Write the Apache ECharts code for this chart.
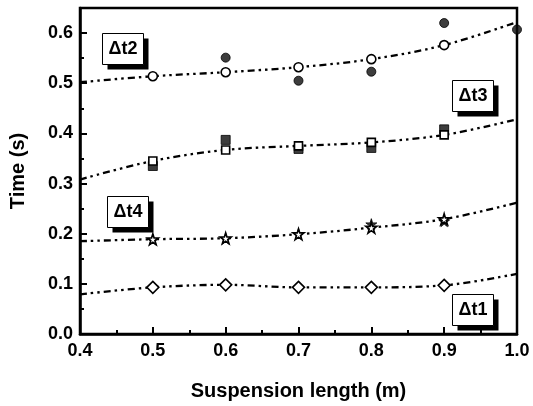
<!DOCTYPE html>
<html>
<head>
<meta charset="utf-8">
<script src="https://cdn.jsdelivr.net/npm/echarts@6/dist/echarts.min.js"></script>
<style>
  html, body { margin: 0; padding: 0; background: #fff; }
  #chart { width: 533px; height: 406px; }
</style>
</head>
<body>
<div id="chart"></div>
<script>
// Suspension lengths (m)
const lengths = [0.4, 0.5, 0.6, 0.7, 0.8, 0.9, 1.0];

// Fitted curves (open markers) and measured values (filled markers), seconds
const t2Fit  = [0.502, 0.514, 0.522, 0.532, 0.548, 0.576, 0.622];
const t2Meas = [null, null, 0.551, 0.505, 0.523, 0.620, 0.607];
const t3Fit  = [0.308, 0.345, 0.367, 0.375, 0.382, 0.397, 0.428];
const t3Meas = [null, 0.335, 0.387, 0.369, 0.371, 0.408, null];
const t4Fit  = [0.185, 0.189, 0.191, 0.199, 0.212, 0.229, 0.262];
const t4Meas = [null, 0.188, 0.190, 0.199, 0.219, 0.225, null];
const t1Fit  = [0.079, 0.093, 0.098, 0.093, 0.093, 0.097, 0.120];

// Axis tick values
const xTicks = [0.4, 0.5, 0.6, 0.7, 0.8, 0.9, 1.0];
const yTicks = [0.0, 0.1, 0.2, 0.3, 0.4, 0.5, 0.6];

const FONT = 'Liberation Sans, Arial, sans-serif';
const STAR = 'path://M50,0 L61,35 L98,35 L68,57 L79,91 L50,70 L21,91 L32,57 L2,35 L39,35 Z';
const DASH = [7, 4, 2.5, 4, 2.5, 4];

function pairs(ys) {
  return lengths.map((x, i) => (ys[i] == null ? null : [x, ys[i]])).filter(Boolean);
}

// Fitted curve: hide the markers that sit on the plot edges
function fitSeries(name, ys, symbol, size) {
  return {
    name, type: 'line', smooth: 0.35, z: 3,
    symbol, symbolSize: size,
    data: lengths.map((x, i) => {
      const d = { value: [x, ys[i]] };
      if (i === 0 || i === lengths.length - 1) d.symbol = 'none';
      return d;
    }),
    lineStyle: { color: '#000', width: 2.3, type: DASH },
    itemStyle: { color: '#fff', borderColor: '#000', borderWidth: 1.6 },
    emphasis: { disabled: true }
  };
}

function measSeries(name, ys, symbol, size) {
  return {
    name, type: 'scatter', z: 2, symbol, symbolSize: size,
    data: pairs(ys),
    itemStyle: { color: '#0d0d0d', borderColor: '#000', borderWidth: 1 },
    emphasis: { disabled: true }
  };
}

// Boxed curve label with a solid drop shadow
function tag(text, x, y) {
  const w = 41, h = 31, off = 5;
  return {
    type: 'group', left: x, top: y, z: 50,
    children: [
      { type: 'rect', shape: { x: off, y: off, width: w, height: h }, style: { fill: '#000' } },
      { type: 'rect', shape: { x: 0, y: 0, width: w, height: h }, style: { fill: '#fff', stroke: '#000', lineWidth: 1 } },
      { type: 'text', x: w / 2, y: h / 2,
        style: { text, fill: '#000', font: 'bold 18px ' + FONT, align: 'center', verticalAlign: 'middle' } }
    ]
  };
}

const chart = echarts.init(document.getElementById('chart'), null, { renderer: 'canvas' });

const axisCommon = {
  axisLine: { show: true, lineStyle: { color: '#000', width: 2.5 } },
  axisTick: { show: true, inside: true, length: 7, lineStyle: { color: '#000', width: 2 } },
  minorTick: { show: true, splitNumber: 2, length: 4, lineStyle: { color: '#000', width: 2 } },
  splitLine: { show: false },
  nameTextStyle: { color: '#000', fontFamily: FONT, fontWeight: 'bold', fontSize: 20 }
};

chart.setOption({
  animation: false,
  backgroundColor: '#fff',
  grid: { left: 76, right: 16, top: 8, bottom: 71, show: true, borderColor: '#000', borderWidth: 2.5 },
  xAxis: Object.assign({}, axisCommon, {
    type: 'value', min: xTicks[0], max: xTicks[xTicks.length - 1], interval: 0.1,
    name: 'Suspension length (m)', nameLocation: 'middle', nameGap: 47,
    axisLabel: {
      color: '#000', fontFamily: FONT, fontWeight: 'bold', fontSize: 18, margin: 8,
      formatter: v => v.toFixed(1)
    }
  }),
  yAxis: Object.assign({}, axisCommon, {
    type: 'value', min: yTicks[0], max: 0.65, interval: 0.1,
    name: 'Time (s)', nameLocation: 'middle', nameGap: 52,
    axisLabel: {
      color: '#000', fontFamily: FONT, fontWeight: 'bold', fontSize: 18, margin: 7,
      formatter: v => (v > yTicks[yTicks.length - 1] + 1e-6 ? '' : v.toFixed(1))
    }
  }),
  series: [
    measSeries('Δt2 measured', t2Meas, 'circle', 9),
    measSeries('Δt3 measured', t3Meas, 'rect', 9),
    measSeries('Δt4 measured', t4Meas, STAR, 11),
    fitSeries('Δt2', t2Fit, 'circle', 9),
    fitSeries('Δt3', t3Fit, 'rect', 8),
    fitSeries('Δt4', t4Fit, STAR, 11),
    fitSeries('Δt1', t1Fit, 'diamond', 12)
  ],
  graphic: [
    tag('Δt2', 102, 33),
    tag('Δt3', 452, 80),
    tag('Δt4', 107, 196),
    tag('Δt1', 452, 294)
  ]
});
</script>
</body>
</html>
